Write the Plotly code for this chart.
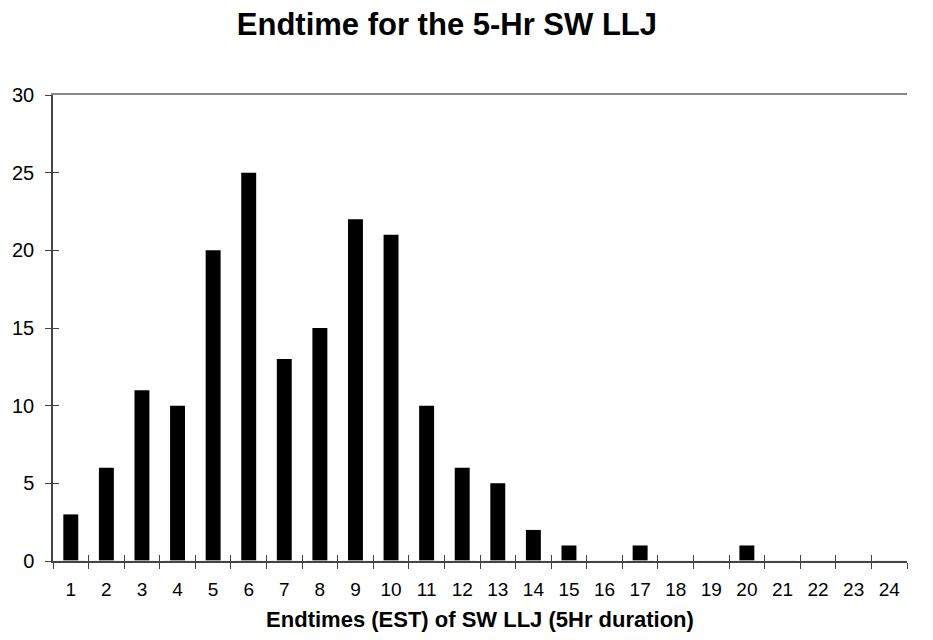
import plotly.graph_objects as go

categories = [str(i) for i in range(1, 25)]
counts = [3, 6, 11, 10, 20, 25, 13, 15, 22, 21, 10, 6, 5, 2, 1, 0, 1, 0, 0, 1, 0, 0, 0, 0]
y_ticks = [0, 5, 10, 15, 20, 25, 30]

title_text = "Endtime for the 5-Hr SW LLJ"
x_title = "Endtimes (EST) of SW LLJ (5Hr duration)"

font = "Liberation Sans, Arial, sans-serif"
axis_col = "#444444"

fig = go.Figure()
fig.add_trace(go.Bar(x=categories, y=counts, marker=dict(color="black", line=dict(width=0)),
                     width=0.42, showlegend=False, hoverinfo="x+y"))
# invisible helper traces so the overlay axes render
fig.add_trace(go.Bar(x=categories, y=[0] * len(categories), xaxis="x2", yaxis="y2",
                     showlegend=False, hoverinfo="skip", marker=dict(color="rgba(0,0,0,0)")))
fig.add_trace(go.Bar(x=categories, y=[0] * len(categories), xaxis="x3", yaxis="y2",
                     showlegend=False, hoverinfo="skip", marker=dict(color="rgba(0,0,0,0)")))

fig.update_layout(
    width=933, height=640,
    paper_bgcolor="white", plot_bgcolor="white",
    margin=dict(l=49, r=26, t=95, b=77),
    title=dict(text=f"<b>{title_text}</b>", x=0.479, xanchor="center", y=0.963, yanchor="middle",
               font=dict(family=font, size=31, color="black")),
    font=dict(family=font, color="black"),
    xaxis=dict(
        type="category", tickson="boundaries", ticks="outside", ticklen=6, tickcolor=axis_col,
        showline=True, linecolor=axis_col, linewidth=1.5, showgrid=False,
        tickfont=dict(size=19, family=font, color="black"), ticklabelstandoff=10,
        title=dict(text=f"<b>{x_title}</b>", font=dict(size=22, family=font, color="black"), standoff=13),
    ),
    yaxis=dict(
        range=[0, 30], tickvals=y_ticks, ticks="outside", ticklen=6, tickcolor=axis_col,
        showline=True, linecolor=axis_col, linewidth=1.5, showgrid=False, zeroline=False,
        tickfont=dict(size=20, family=font, color="black"), ticklabelstandoff=7,
    ),
    xaxis2=dict(
        type="category", overlaying="x", matches="x", tickson="boundaries", ticks="inside", ticklen=6,
        tickcolor=axis_col, showticklabels=False, showline=False, showgrid=False, side="bottom",
        anchor="y2",
    ),
    xaxis3=dict(
        type="category", overlaying="x", matches="x", ticks="", showticklabels=False,
        showline=True, linecolor="#888888", linewidth=1.5, showgrid=False, side="top", anchor="y2",
    ),
    yaxis2=dict(
        overlaying="y", range=[0, 30], tickvals=y_ticks, ticks="inside", ticklen=6, tickcolor=axis_col,
        showticklabels=False, showline=False, showgrid=False, zeroline=False, anchor="x2",
    ),
)

fig.write_html("out.html", config={"displayModeBar": False},
               post_script="document.body.style.margin='0';document.body.style.overflow='hidden';")
